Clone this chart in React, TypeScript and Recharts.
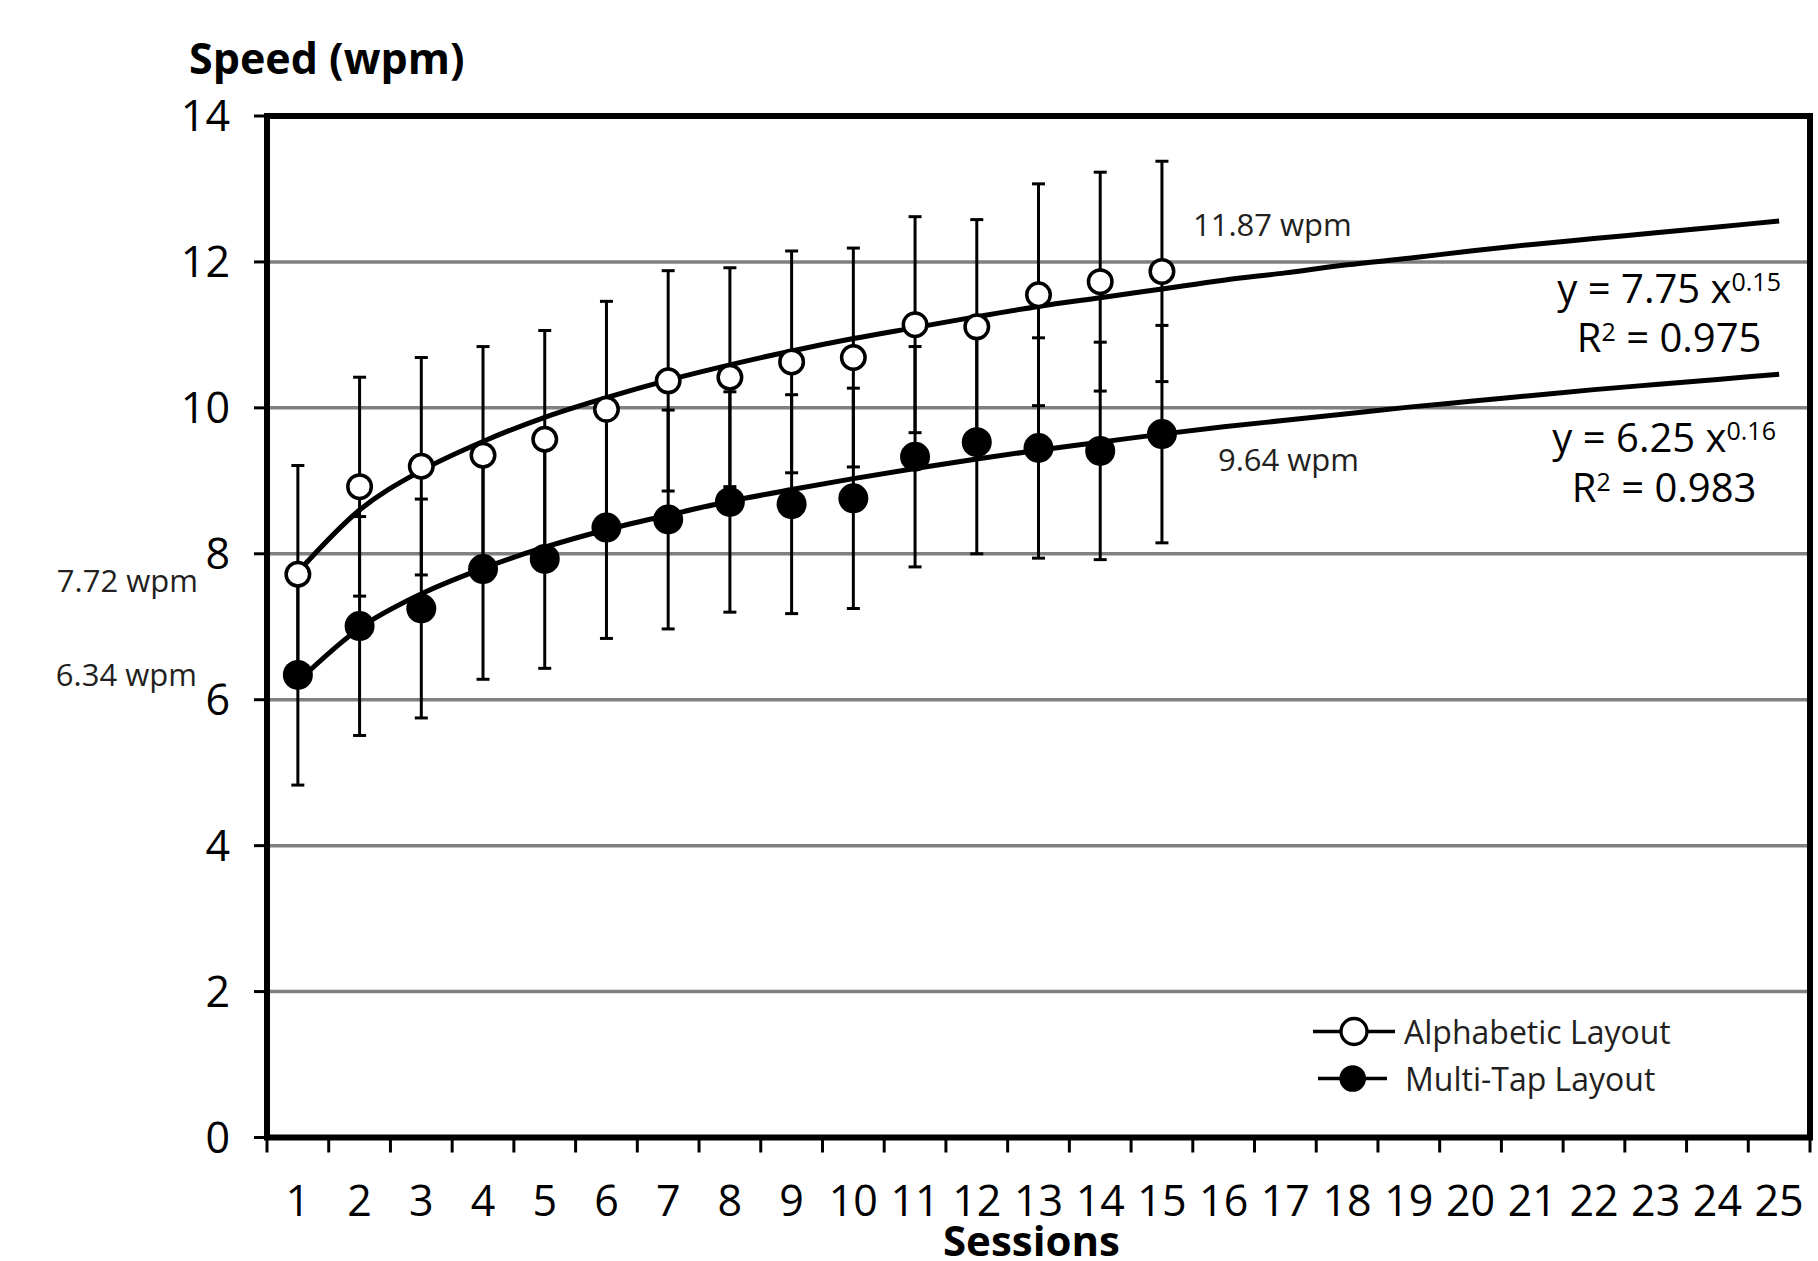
import {
  ComposedChart,
  Line,
  XAxis,
  YAxis,
  CartesianGrid,
  ErrorBar,
  ReferenceArea,
  ReferenceDot,
  Legend,
  Label,
} from "recharts"

// sessions on the x axis
const sessions = [1, 2, 3, 4, 5, 6, 7, 8, 9, 10, 11, 12, 13, 14, 15, 16, 17, 18, 19, 20, 21, 22, 23, 24, 25]

// measured means (wpm) and standard deviations, sessions 1-15
const alphabeticMean = [7.72, 8.92, 9.2, 9.35, 9.57, 9.98, 10.37, 10.42, 10.63, 10.69, 11.14, 11.11, 11.55, 11.73, 11.87]
const alphabeticSd = [1.49, 1.5, 1.49, 1.49, 1.49, 1.48, 1.51, 1.5, 1.52, 1.5, 1.48, 1.47, 1.52, 1.5, 1.51]
const multiTapMean = [6.34, 7.01, 7.25, 7.79, 7.93, 8.36, 8.47, 8.71, 8.68, 8.76, 9.33, 9.53, 9.45, 9.41, 9.64]
const multiTapSd = [1.51, 1.5, 1.5, 1.51, 1.5, 1.52, 1.5, 1.51, 1.5, 1.51, 1.51, 1.53, 1.51, 1.49, 1.49]

// power-law trend lines as drawn, sessions 1-25
const alphabeticFit = [7.75, 8.6, 9.14, 9.54, 9.87, 10.14, 10.38, 10.59, 10.78, 10.95, 11.1, 11.25, 11.39, 11.51, 11.63, 11.75, 11.85, 11.96, 12.05, 12.15, 12.24, 12.32, 12.4, 12.48, 12.56]
const multiTapFit = [6.25, 6.98, 7.45, 7.8, 8.09, 8.33, 8.53, 8.72, 8.88, 9.03, 9.17, 9.3, 9.42, 9.53, 9.64, 9.74, 9.83, 9.92, 10.01, 10.09, 10.17, 10.25, 10.32, 10.39, 10.46]

const alphabeticEq = { coef: "7.75", power: "0.15", r2: "0.975" }
const multiTapEq = { coef: "6.25", power: "0.16", r2: "0.983" }

const seriesNames = ["Alphabetic Layout", "Multi-Tap Layout"]
const yTicks = [0, 2, 4, 6, 8, 10, 12, 14]
const xMarkTicks = [0.5, ...sessions.map((s) => s + 0.5)]

const rows = sessions.map((session, i) => ({
  session,
  alphabetic: alphabeticMean[i],
  alphabeticSd: alphabeticSd[i],
  multiTap: multiTapMean[i],
  multiTapSd: multiTapSd[i],
  alphabeticFit: alphabeticFit[i],
  multiTapFit: multiTapFit[i],
}))

const FONT = "'Open Sans', 'Noto Sans', sans-serif"
const INK = "#231f20"
const last = alphabeticMean.length - 1

function centerOf(props: any) {
  const vb = props.viewBox || {}
  return { cx: vb.x + (vb.width || 0) / 2, cy: vb.y + (vb.height || 0) / 2 }
}

function wpmLabel(value: number, dx: number, dy: number, anchor: "start" | "end") {
  return (props: any) => {
    const { cx, cy } = centerOf(props)
    return (
      <text x={cx + dx} y={cy + dy} textAnchor={anchor} fontFamily={FONT} fontSize={31} fill={INK}>
        {`${value.toFixed(2)} wpm`}
      </text>
    )
  }
}

function eqLabel(eq: { coef: string; power: string; r2: string }, dx: number, dy1: number, dy2: number) {
  return (props: any) => {
    const { cx, cy } = centerOf(props)
    return (
      <g fontFamily={FONT} fill="#000" textAnchor="middle">
        <text x={cx + dx} y={cy + dy1} fontSize={40}>
          {`y = ${eq.coef} x`}
          <tspan fontSize={25} dy={-12}>{eq.power}</tspan>
        </text>
        <text x={cx + dx} y={cy + dy2} fontSize={40}>
          R<tspan fontSize={25} dy={-11}>2</tspan>
          <tspan dy={11}>{` = ${eq.r2}`}</tspan>
        </text>
      </g>
    )
  }
}

function LegendBox() {
  return (
    <div style={{ fontFamily: FONT, fontSize: 32, color: INK, lineHeight: "47px" }}>
      <div style={{ display: "flex", alignItems: "center", height: 47 }}>
        <svg width={91} height={47}>
          <line x1={0} y1={23.5} x2={82} y2={23.5} stroke="#000" strokeWidth={3.3} />
          <circle cx={41} cy={23.5} r={13} fill="#fff" stroke="#000" strokeWidth={3.3} />
        </svg>
        <span>{seriesNames[0]}</span>
      </div>
      <div style={{ display: "flex", alignItems: "center", height: 47, marginLeft: 5 }}>
        <svg width={87} height={47}>
          <line x1={0} y1={23.5} x2={69} y2={23.5} stroke="#000" strokeWidth={3.3} />
          <circle cx={34.7} cy={23.5} r={13.3} fill="#000" />
        </svg>
        <span>{seriesNames[1]}</span>
      </div>
    </div>
  )
}

const tickStyle = { fontSize: 43, fill: "#000", fontFamily: FONT }
const noTick = () => <g />

export default function App() {
  return (
    <div style={{ position: "absolute", left: 0, top: 0, width: 1818, height: 1261, background: "#fff" }}>
      <ComposedChart width={1818} height={1261} data={rows} margin={{ top: 116, right: 8, bottom: 0, left: 0 }}>
        <CartesianGrid xAxisId="mid" vertical={false} stroke="#808080" strokeWidth={3.5} />
        {/* tick marks sit on the session boundaries */}
        <XAxis
          xAxisId="edge"
          dataKey="session"
          type="number"
          domain={[0.5, 25.5]}
          allowDataOverflow
          ticks={xMarkTicks}
          interval={0}
          tick={noTick}
          tickSize={15}
          tickLine={{ stroke: "#000", strokeWidth: 3 }}
          axisLine={false}
          height={1}
        />
        {/* labels sit at the session centres */}
        <XAxis
          xAxisId="mid"
          dataKey="session"
          type="number"
          domain={[0.5, 25.5]}
          allowDataOverflow
          ticks={sessions}
          interval={0}
          tickLine={false}
          tickSize={0}
          tickMargin={47}
          axisLine={false}
          tick={tickStyle}
          height={122.5}
        >
          <Label
            content={(props: any) => {
              const vb = props.viewBox
              return (
                <text x={vb.x + vb.width / 2 - 7} y={vb.y + vb.height - 5} textAnchor="middle" fontFamily={FONT} fontWeight={700} fontSize={42} fill="#000">
                  Sessions
                </text>
              )
            }}
          />
        </XAxis>
        <YAxis
          domain={[0, 14]}
          ticks={yTicks}
          interval={0}
          width={267}
          tickSize={13}
          tickMargin={24}
          axisLine={false}
          tickLine={{ stroke: "#000", strokeWidth: 3 }}
          tick={tickStyle}
        >
          <Label
            content={(props: any) => {
              const vb = props.viewBox
              return (
                <text x={vb.x + vb.width - 78} y={vb.y - 42} fontFamily={FONT} fontWeight={700} fontSize={43} fill="#000">
                  Speed (wpm)
                </text>
              )
            }}
          />
        </YAxis>

        <Line xAxisId="mid" dataKey="alphabetic" stroke="none" isAnimationActive={false} legendType="none"
          dot={{ r: 11.75, fill: "#fff", stroke: "#000", strokeWidth: 3.5 }} activeDot={false}>
          <ErrorBar dataKey="alphabeticSd" width={6.5} stroke="#000" strokeWidth={3} direction="y" isAnimationActive={false} />
        </Line>
        <Line xAxisId="mid" dataKey="multiTap" stroke="none" isAnimationActive={false} legendType="none"
          dot={{ r: 15, fill: "#000", stroke: "none" }} activeDot={false}>
          <ErrorBar dataKey="multiTapSd" width={6.5} stroke="#000" strokeWidth={3} direction="y" isAnimationActive={false} />
        </Line>

        <Line xAxisId="mid" type="monotone" dataKey="alphabeticFit" stroke="#000" strokeWidth={5} dot={false} activeDot={false} isAnimationActive={false} legendType="none" />
        <Line xAxisId="mid" type="monotone" dataKey="multiTapFit" stroke="#000" strokeWidth={5} dot={false} activeDot={false} isAnimationActive={false} legendType="none" />

        <ReferenceArea xAxisId="mid" x1={0.5} x2={25.5} y1={0} y2={14} fill="none" stroke="#000" strokeWidth={6} ifOverflow="visible" />

        <ReferenceDot xAxisId="mid" x={sessions[0]} y={alphabeticMean[0]} r={1} fill="none" stroke="none"
          label={wpmLabel(alphabeticMean[0], -100, 17.5, "end")} />
        <ReferenceDot xAxisId="mid" x={sessions[0]} y={multiTapMean[0]} r={1} fill="none" stroke="none"
          label={wpmLabel(multiTapMean[0], -101, 11, "end")} />
        <ReferenceDot xAxisId="mid" x={sessions[last]} y={alphabeticMean[last]} r={1} fill="none" stroke="none"
          label={wpmLabel(alphabeticMean[last], 31, -35, "start")} />
        <ReferenceDot xAxisId="mid" x={sessions[last]} y={multiTapMean[last]} r={1} fill="none" stroke="none"
          label={wpmLabel(multiTapMean[last], 56, 37, "start")} />
        <ReferenceDot xAxisId="mid" x={sessions[24]} y={alphabeticFit[24]} r={1} fill="none" stroke="none"
          label={eqLabel(alphabeticEq, -110, 82, 130.5)} />
        <ReferenceDot xAxisId="mid" x={sessions[24]} y={multiTapFit[24]} r={1} fill="none" stroke="none"
          label={eqLabel(multiTapEq, -115, 77.5, 127.5)} />

        <Legend
          layout="vertical"
          align="center"
          verticalAlign="middle"
          content={() => <LegendBox />}
          wrapperStyle={{ left: 1313, top: 1008, width: 460 }}
        />
      </ComposedChart>
    </div>
  )
}
